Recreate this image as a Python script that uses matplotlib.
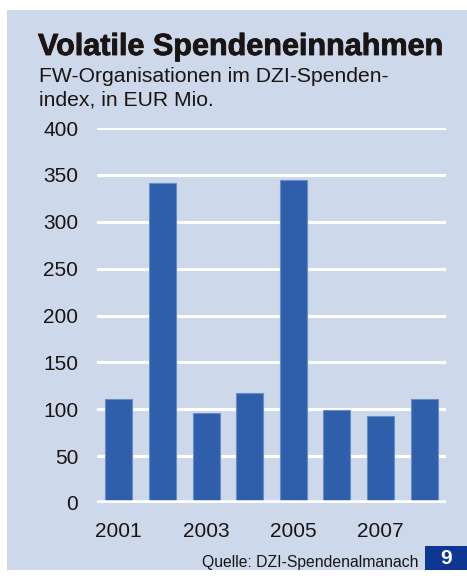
import matplotlib.pyplot as plt
import matplotlib.patheffects as pe
from matplotlib.patches import Rectangle

years = [2001, 2002, 2003, 2004, 2005, 2006, 2007, 2008]
values = [111, 341, 96, 117, 345, 99, 93, 111]
yticks = [0, 50, 100, 150, 200, 250, 300, 350, 400]
xtick_years = [2001, 2003, 2005, 2007]

bg = '#cdd8ea'
bar_color = '#2f5fab'
box_color = '#0e3693'
ink = '#1a1414'

plt.rcParams['font.family'] = ['Liberation Sans', 'DejaVu Sans']

fig = plt.figure(figsize=(4.67, 5.8), dpi=100)
W, H = 467, 580

# background panel
fig.patches.append(Rectangle((7 / W, 10 / H), 460 / W, 1 - 20 / H, transform=fig.transFigure,
                             facecolor=bg, edgecolor='none', zorder=0))
# page number box
fig.patches.append(Rectangle((425 / W, 10 / H), 42 / W, 24 / H, transform=fig.transFigure,
                             facecolor=box_color, edgecolor='none', zorder=1))
fig.text(446 / W, 21 / H, '9', color='white', fontsize=15, fontweight='bold',
         ha='center', va='center')

fig.text(38 / W, 1 - 47 / H, 'Volatile Spendeneinnahmen', fontsize=22, fontweight='bold',
         color=ink, va='center',
         path_effects=[pe.withStroke(linewidth=0.6, foreground=ink)])
fig.text(39 / W, 1 - 76 / H, 'FW-Organisationen im DZI-Spenden-', fontsize=15.2,
         color=ink, va='center')
fig.text(39 / W, 1 - 100 / H, 'index, in EUR Mio.', fontsize=15.2, color=ink, va='center')
fig.text(419 / W, 1 - 563 / H, 'Quelle: DZI-Spendenalmanach', fontsize=11.3,
         color=ink, ha='right', va='center')

ax = fig.add_axes([97 / W, 1 - 503 / H, 349 / W, 375 / H])
ax.set_zorder(5)
ax.set_facecolor('none')
x = list(range(len(years)))
ax.bar(x, values, width=0.62, color=bar_color, edgecolor='#6a8cc8', linewidth=0.8, zorder=3)
for t in yticks:
    ax.axhline(t, color='white', linewidth=4 if t == 0 else 2.2, zorder=2 if t else 4)
ax.set_xlim(-0.5, len(years) - 0.5)
ax.set_ylim(0, 400)
ax.set_yticks(yticks)
ax.set_yticklabels([str(t) for t in yticks], fontsize=15, color=ink)
ax.set_xticks([years.index(y) for y in xtick_years])
ax.set_xticklabels([str(y) for y in xtick_years], fontsize=15, color=ink)
ax.tick_params(length=0, axis='y', pad=13.5)
ax.tick_params(length=0, axis='x', pad=13.5)
for s in ax.spines.values():
    s.set_visible(False)

fig.savefig('out.png', dpi=100)
